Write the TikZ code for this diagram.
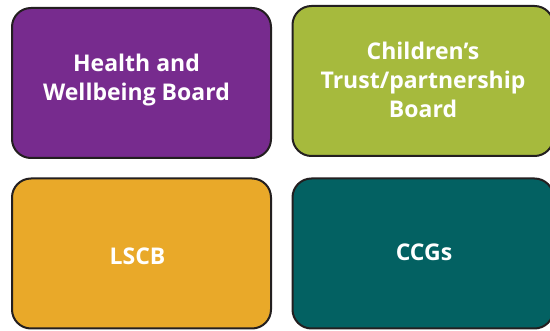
\documentclass[tikz,border=0pt]{standalone}
\usepackage{fontspec}
\setmainfont{Open Sans}
\definecolor{hwbpurple}{HTML}{772B8E}
\definecolor{ctgreen}{HTML}{A6BA3D}
\definecolor{lscbgold}{HTML}{E9A929}
\definecolor{ccgteal}{HTML}{036162}
\definecolor{rim}{HTML}{231F20}
\tikzset{
  board/.style={draw=rim, line width=2pt, rounded corners=19pt,
    minimum width=259pt, minimum height=150pt, inner sep=0pt, outer sep=0pt},
  boardtext/.style={text=white, align=center, inner sep=0pt,
    font=\fontsize{23}{29}\selectfont\bfseries}
}
\begin{document}
\begin{tikzpicture}[x=1pt,y=-1pt]
  \useasboundingbox (0,0) rectangle (550,331);
  \clip (0,0) rectangle (550,331);
  % the four boards
  \node[board, fill=hwbpurple] (hwb) at (141.5,83) {};
  \node[board, fill=ctgreen, minimum width=261pt] (ct) at (423,81) {};
  \node[board, fill=lscbgold] (lscb) at (141.5,253.5) {};
  \node[board, fill=ccgteal, minimum width=261pt] (ccg) at (423,253.5) {};
  % their titles
  \node[boardtext] (hwbt) at ([shift={(-5,-3)}]hwb.center) {Health and\\Wellbeing Board};
  \node[boardtext] (ctt) at ([shift={(0,-1)}]ct.center) {Children’s\\Trust/partnership\\Board};
  \node[boardtext] (lscbt) at ([shift={(-4,3)}]lscb.center) {LSCB};
  \node[boardtext] (ccgt) at ([shift={(1,-1)}]ccg.center) {CCGs};
\end{tikzpicture}
\end{document}
